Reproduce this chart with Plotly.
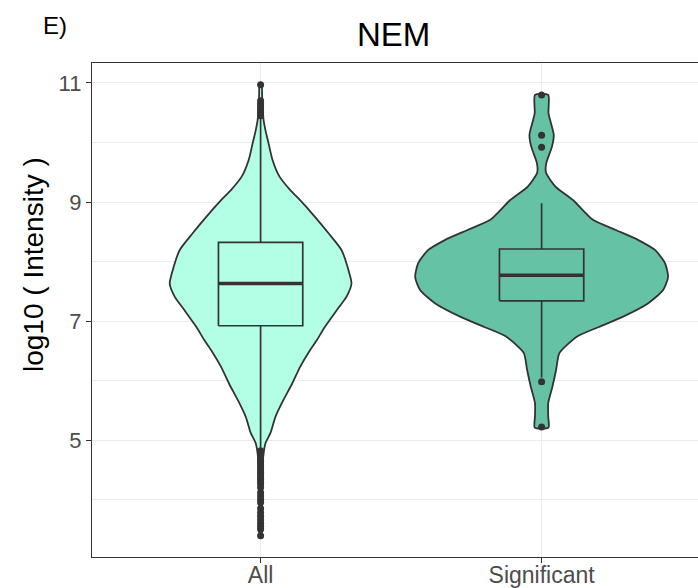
import plotly.graph_objects as go

# ---------------- data ----------------
categories = ["All", "Significant"]
cat_pos = [1, 2]

# violin outlines: y levels and relative density (half-width)
all_y = [3.39, 3.8, 4.2, 4.5, 4.7, 4.95, 5.12, 5.39, 5.67, 5.95, 6.23, 6.51, 6.68, 6.90,
         7.18, 7.41, 7.63, 7.91, 8.19, 8.47, 8.75, 9.03, 9.20, 9.43, 9.71, 9.99, 10.2,
         10.38, 10.6, 10.8, 10.97]
all_dens = [1, 1.2, 1.4, 1.8, 2.5, 5, 10, 15, 23, 32, 40, 50, 57, 65,
            77, 87, 92, 88, 82, 69, 55, 40, 30, 19, 12, 8, 5,
            3, 2, 1.5, 1]

sig_y = [5.21, 5.39, 5.62, 5.90, 6.18, 6.46, 6.74, 6.90, 7.07, 7.30, 7.52, 7.74, 7.97,
         8.19, 8.36, 8.53, 8.70, 9.03, 9.26, 9.49, 9.65, 9.93, 10.13, 10.49, 10.80]
sig_dens = [7, 6.7, 6.7, 11, 14.7, 18, 36, 58, 82, 108, 123, 128, 125,
            115, 98, 75, 52, 32, 14, 4.5, 4.7, 10.5, 12.3, 7, 6.7]

# box statistics
q1 = [6.92, 7.34]
median = [7.63, 7.77]
q3 = [8.32, 8.21]
lower_fence = [4.87, 6.05]
upper_fence = [10.40, 8.98]

# outliers
all_outliers = [10.45, 10.5, 10.55, 10.6, 10.65, 10.7, 10.97,
                4.82, 4.78, 4.74, 4.70, 4.66, 4.62, 4.58, 4.54, 4.50, 4.46, 4.42, 4.38,
                4.34, 4.30, 4.26, 4.20, 4.12, 4.06, 4.00, 3.95, 3.85, 3.78, 3.72,
                3.66, 3.60, 3.55, 3.50, 3.39]
sig_outliers = [10.80, 10.12, 9.92, 5.98, 5.22]

fills = ["#B3FFE6", "#66C2A5"]
dark = "#333333"

# ---------------- figure ----------------
fig = go.Figure()
max_d = max(max(all_dens), max(sig_dens))
half_max = 0.45

violins = [(all_y, all_dens), (sig_y, sig_dens)]
for i, (ys, ds) in enumerate(violins):
    c = cat_pos[i]
    w = [d / max_d * half_max for d in ds]
    xs = [c + v for v in w] + [c - v for v in reversed(w)] + [c + w[0]]
    yy = list(ys) + list(reversed(ys)) + [ys[0]]
    fig.add_trace(go.Scatter(x=xs, y=yy, mode="lines", fill="toself",
                             fillcolor=fills[i],
                             line=dict(color=dark, width=1.8, shape="spline", smoothing=0.6),
                             hoverinfo="skip", showlegend=False))

box_w = 0.30
for i in range(2):
    c = cat_pos[i]
    # whiskers
    fig.add_trace(go.Scatter(x=[c, c, None, c, c],
                             y=[q3[i], upper_fence[i], None, q1[i], lower_fence[i]],
                             mode="lines", line=dict(color=dark, width=1.7),
                             showlegend=False, hoverinfo="skip"))
    # box
    l, r = c - box_w / 2, c + box_w / 2
    fig.add_trace(go.Scatter(x=[l, r, r, l, l], y=[q1[i], q1[i], q3[i], q3[i], q1[i]],
                             mode="lines", fill="toself", fillcolor=fills[i],
                             line=dict(color=dark, width=1.7),
                             showlegend=False, hoverinfo="skip"))
    # median
    fig.add_trace(go.Scatter(x=[l, r], y=[median[i], median[i]],
                             mode="lines", line=dict(color=dark, width=3.4),
                             showlegend=False, hoverinfo="skip"))

for i, outs in enumerate([all_outliers, sig_outliers]):
    fig.add_trace(go.Scatter(x=[cat_pos[i]] * len(outs), y=outs, mode="markers",
                             marker=dict(color=dark, size=7),
                             showlegend=False, hoverinfo="skip"))

W, H = 698, 588
ml, mt, mb = 92, 63, 31
px_per_x = 281.0
x_lo = 0.4
x_hi = x_lo + (W - ml) / px_per_x

fig.update_layout(
    width=W, height=H,
    margin=dict(l=ml, r=0, t=mt, b=mb),
    plot_bgcolor="white", paper_bgcolor="white",
    font=dict(family="Liberation Sans, Arial, sans-serif"),
    showlegend=False,
    xaxis=dict(range=[x_lo, x_hi], tickvals=cat_pos, ticktext=categories,
               automargin=False, ticklabelstandoff=-8,
               showgrid=True, gridcolor="#EBEBEB", gridwidth=1.2,
               showline=True, linecolor=dark, linewidth=1.3, mirror=True,
               ticks="outside", ticklen=5, tickcolor=dark, tickwidth=1.2,
               tickfont=dict(size=23, color="#4D4D4D"), zeroline=False),
    yaxis=dict(range=[3.034, 11.336], tickvals=[5, 7, 9, 11],
               automargin=False,
               showgrid=True, gridcolor="#EBEBEB", gridwidth=1.2,
               minor=dict(tickvals=[4, 6, 8, 10], showgrid=True,
                          gridcolor="#EBEBEB", gridwidth=0.7, ticks=""),
               showline=True, linecolor=dark, linewidth=1.3, mirror=False,
               ticks="outside", ticklen=5, tickcolor=dark, tickwidth=1.2,
               tickfont=dict(size=22, color="#4D4D4D"), zeroline=False),
)

plot_h = H - mt - mb
plot_w = W - ml

def px_x(p):
    return (p - ml) / plot_w

def px_y(p):
    return (H - mb - p) / plot_h

fig.add_annotation(text="NEM", xref="paper", yref="paper", x=px_x(393), y=px_y(35),
                   xanchor="center", yanchor="middle", showarrow=False,
                   font=dict(size=33, color="black"))
fig.add_annotation(text="E)", xref="paper", yref="paper", x=px_x(41), y=px_y(25),
                   xanchor="left", yanchor="middle", showarrow=False,
                   font=dict(size=24, color="black"))
fig.add_annotation(text="log10 ( Intensity )", xref="paper", yref="paper",
                   x=px_x(33), y=px_y(265), textangle=-90,
                   xanchor="center", yanchor="middle", showarrow=False,
                   font=dict(size=28, color="black"))

fig.write_html("out.html")
